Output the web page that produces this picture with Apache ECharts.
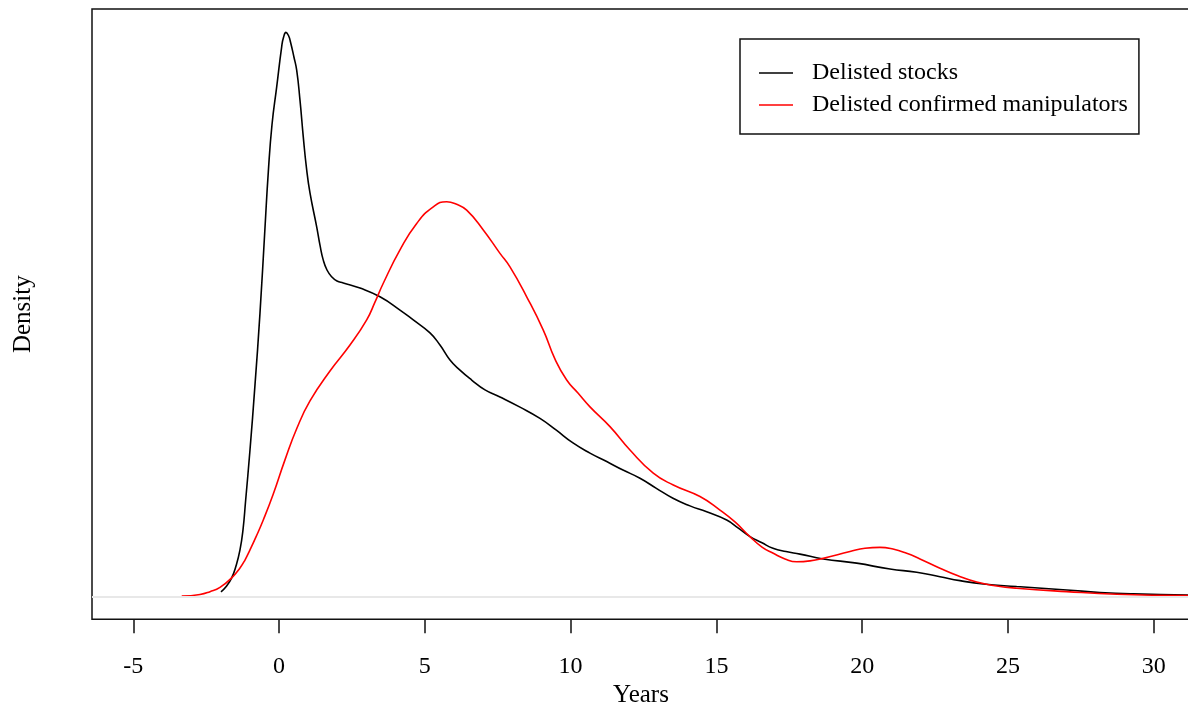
<!DOCTYPE html>
<html>
<head>
<meta charset="utf-8">
<script src="https://cdn.jsdelivr.net/npm/echarts@6/dist/echarts.min.js"></script>
<style>
html,body{margin:0;padding:0;background:#fff;}
#chart{width:1188px;height:708px;}
</style>
</head>
<body>
<div id="chart"></div>
<script>
// ---- data ----
const seriesNames = ['Delisted stocks', 'Delisted confirmed manipulators'];
const xTicks = [-5, 0, 5, 10, 15, 20, 25, 30];

const stocksX = [-1.993, -1.821, -1.626, -1.478, -1.341, -1.238, -1.146, -0.998, -0.827, -0.655, -0.484, -0.370, -0.244, -0.082, 0.089, 0.151, 0.237, 0.322, 0.391, 0.511, 0.604, 0.717, 0.830, 0.940, 1.060, 1.290, 1.403, 1.516, 1.643, 1.804, 1.986, 2.202, 2.775, 3.461, 4.147, 4.603, 5.176, 5.519, 5.862, 6.205, 6.606, 7.063, 7.577, 8.263, 8.949, 9.498, 10.081, 10.664, 11.237, 11.796, 12.379, 12.928, 13.511, 14.094, 14.667, 15.353, 15.740, 16.152, 16.564, 16.941, 17.387, 17.867, 18.666, 19.812, 20.954, 21.870, 22.669, 23.355, 24.154, 25.300, 27.015, 28.157, 29.289, 31.313];
const stocksY = [0.0016, 0.0034, 0.0066, 0.0108, 0.0165, 0.0236, 0.0342, 0.0519, 0.0749, 0.1004, 0.1306, 0.1504, 0.1671, 0.1806, 0.1948, 0.1981, 0.1999, 0.1988, 0.1965, 0.1911, 0.1865, 0.1759, 0.1629, 0.1518, 0.1430, 0.1310, 0.1245, 0.1192, 0.1157, 0.1133, 0.1118, 0.1111, 0.1093, 0.1062, 0.1015, 0.0980, 0.0934, 0.0891, 0.0838, 0.0802, 0.0767, 0.0732, 0.0707, 0.0671, 0.0631, 0.0590, 0.0544, 0.0508, 0.0478, 0.0448, 0.0419, 0.0384, 0.0348, 0.0321, 0.0300, 0.0271, 0.0243, 0.0212, 0.0190, 0.0171, 0.0159, 0.0150, 0.0133, 0.0118, 0.0097, 0.0086, 0.0070, 0.0056, 0.0044, 0.0035, 0.0023, 0.0014, 0.0009, 0.0005];

const manipX = [-3.339, -2.713, -2.370, -2.027, -1.626, -1.341, -1.170, -0.998, -0.792, -0.542, -0.199, 0.202, 0.614, 1.060, 1.746, 2.432, 3.005, 3.289, 3.574, 4.147, 4.720, 5.289, 5.749, 6.068, 6.435, 7.004, 7.577, 7.920, 8.493, 9.062, 9.464, 9.865, 10.252, 10.664, 11.350, 12.036, 12.835, 13.521, 14.437, 15.123, 15.637, 16.152, 16.564, 16.951, 17.353, 17.754, 18.210, 18.666, 19.582, 20.097, 20.611, 21.057, 21.527, 21.983, 22.669, 23.287, 23.928, 24.556, 25.300, 27.015, 28.730, 31.313];
const manipY = [0.0001, 0.0007, 0.0017, 0.0032, 0.0066, 0.0101, 0.0129, 0.0165, 0.0211, 0.0271, 0.0363, 0.0484, 0.0597, 0.0693, 0.0799, 0.0891, 0.0980, 0.1043, 0.1110, 0.1228, 0.1322, 0.1381, 0.1399, 0.1391, 0.1369, 0.1299, 0.1216, 0.1168, 0.1062, 0.0944, 0.0841, 0.0767, 0.0721, 0.0672, 0.0602, 0.0519, 0.0437, 0.0395, 0.0354, 0.0306, 0.0264, 0.0212, 0.0175, 0.0153, 0.0133, 0.0123, 0.0126, 0.0135, 0.0159, 0.0171, 0.0174, 0.0168, 0.0153, 0.0133, 0.0100, 0.0073, 0.0051, 0.0038, 0.0029, 0.0017, 0.0008, 0.0003];

const xMin = -6.417, xMax = 31.245;
const yMin = -0.0081, yMax = 0.2082;

function pairs(xs, ys) { return xs.map((x, i) => [x, ys[i]]); }

const FONT = '"Liberation Serif", "DejaVu Serif", serif';
const chart = echarts.init(document.getElementById('chart'), null, { renderer: 'canvas' });
chart.setOption({
  animation: false,
  backgroundColor: '#fff',
  grid: {
    left: 92, right: -2, top: 9, bottom: 88.7,
    outerBoundsMode: 'none', containLabel: false,
    show: true, borderColor: '#111', borderWidth: 1.5, backgroundColor: 'transparent'
  },
  legend: {
    orient: 'vertical',
    left: 740, top: 39,
    padding: [22, 11, 17, 19],
    itemGap: 8,
    itemWidth: 34, itemHeight: 1.6,
    icon: 'rect',
    borderColor: '#111', borderWidth: 1.5, borderRadius: 0,
    backgroundColor: '#fff',
    textStyle: { fontFamily: FONT, fontSize: 24, color: '#000', padding: [0, 0, 0, 14] },
    data: seriesNames
  },
  xAxis: {
    type: 'value', min: xMin, max: xMax,
    name: 'Years', nameLocation: 'middle', nameGap: 59,
    nameTextStyle: { fontFamily: FONT, fontSize: 25, color: '#000' },
    axisLine: { show: false, onZero: false },
    axisTick: { show: true, length: 14, customValues: xTicks, lineStyle: { color: '#111', width: 1.5 } },
    axisLabel: { show: true, customValues: xTicks, margin: 35, fontFamily: FONT, fontSize: 24, color: '#000' },
    splitLine: { show: false }
  },
  yAxis: {
    type: 'value', min: yMin, max: yMax,
    name: 'Density', nameLocation: 'middle', nameGap: 56, nameRotate: 90,
    nameTextStyle: { fontFamily: FONT, fontSize: 25, color: '#000' },
    axisLine: { show: false, onZero: false }, axisTick: { show: false }, axisLabel: { show: false },
    splitLine: { show: false }
  },
  series: [
    {
      name: seriesNames[0], type: 'line', data: pairs(stocksX, stocksY),
      showSymbol: false, symbol: 'none', smooth: 0.5,
      lineStyle: { color: '#000', width: 1.6 }, itemStyle: { color: '#000' },
      z: 3,
      markLine: {
        silent: true, symbol: 'none', label: { show: false },
        lineStyle: { color: '#e8e8e8', width: 2, type: 'solid' },
        data: [{ yAxis: 0 }]
      }
    },
    {
      name: seriesNames[1], type: 'line', data: pairs(manipX, manipY),
      showSymbol: false, symbol: 'none', smooth: 0.5,
      lineStyle: { color: '#ff0000', width: 1.6 }, itemStyle: { color: '#ff0000' },
      z: 4
    }
  ]
});
</script>
</body>
</html>
